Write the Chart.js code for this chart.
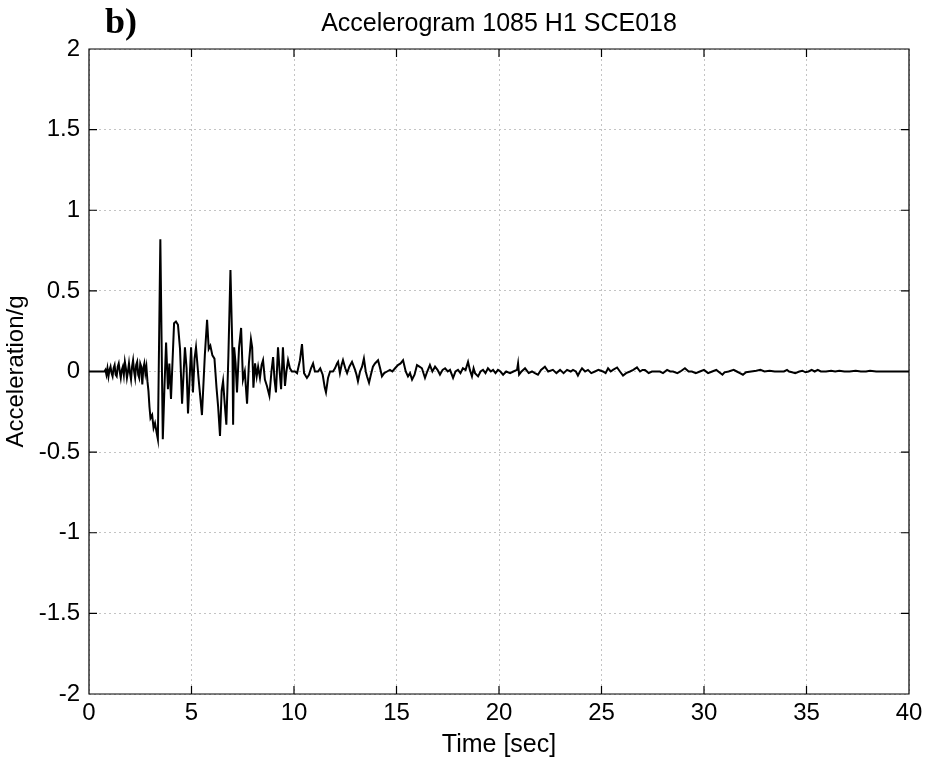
<!DOCTYPE html>
<html>
<head>
<meta charset="utf-8">
<script src="https://cdn.jsdelivr.net/npm/chart.js@4/dist/chart.umd.min.js"></script>
<style>
  html, body { margin: 0; padding: 0; background: #fff; }
  #wrap { width: 925px; height: 760px; }
</style>
</head>
<body>
<div id="wrap"><canvas id="chart" width="925" height="760"></canvas></div>
<script>
const TITLE = "Accelerogram 1085 H1 SCE018";
const PANEL = "b)";
const X_TITLE = "Time [sec]";
const Y_TITLE = "Acceleration/g";
const X_TICKS = [0, 5, 10, 15, 20, 25, 30, 35, 40];
const Y_TICKS = [-2, -1.5, -1, -0.5, 0, 0.5, 1, 1.5, 2];

// seconds
const timeSec = [
  0, 0.75, 0.8, 0.85, 0.9, 0.95, 1.0, 1.05, 1.1, 1.15, 1.2, 1.25, 1.3, 1.35, 1.4, 1.45, 1.5, 1.55, 1.6, 1.65, 1.7, 1.75, 1.8, 1.85, 1.9,
  1.95, 2.0, 2.05, 2.1, 2.15, 2.2, 2.25, 2.3, 2.35, 2.4, 2.45, 2.5, 2.55, 2.6, 2.65, 2.7, 2.75, 2.8, 2.85, 2.9,
  2.95, 3.0, 3.08, 3.15, 3.22, 3.3, 3.36, 3.48, 3.6, 3.68, 3.76, 3.85, 3.92, 4.0, 4.15, 4.24, 4.34, 4.44, 4.54, 4.6, 4.68, 4.76, 4.83, 4.98,
  5.07, 5.15, 5.22, 5.35, 5.51, 5.65, 5.76, 5.84, 5.92, 6.02, 6.12, 6.22, 6.3, 6.39, 6.47, 6.54, 6.62, 6.7, 6.8, 6.9, 7.0, 7.03, 7.08, 7.15,
  7.22, 7.32, 7.42, 7.51, 7.6, 7.71, 7.8, 7.9, 7.96, 8.02, 8.1, 8.18, 8.25, 8.34, 8.42, 8.49, 8.58, 8.68, 8.8, 8.9, 8.98, 9.05, 9.12, 9.22,
  9.3, 9.37, 9.46, 9.56, 9.63, 9.71, 9.8, 9.9, 10.05, 10.15, 10.29, 10.39, 10.49, 10.63, 10.73, 10.83, 10.93, 11.02, 11.17, 11.28, 11.4, 11.5,
  11.56, 11.66, 11.76, 11.9, 12.0, 12.1, 12.15, 12.24, 12.32, 12.39, 12.5, 12.59, 12.7, 12.83, 12.98, 13.05, 13.12, 13.22, 13.32, 13.41, 13.5,
  13.56, 13.66, 13.75, 13.85, 13.95, 14.1, 14.2, 14.29, 14.4, 14.54, 14.68, 14.8, 14.93, 15.07, 15.2, 15.32, 15.45, 15.56, 15.66, 15.76, 15.88,
  16.0, 16.12, 16.24, 16.39, 16.5, 16.63, 16.75, 16.88, 17.0, 17.12, 17.25, 17.37, 17.5, 17.61, 17.76, 17.88, 18.0, 18.12, 18.24, 18.37, 18.49,
  18.58, 18.68, 18.76, 18.83, 18.98, 19.1, 19.22, 19.34, 19.46, 19.6, 19.71, 19.83, 19.95, 20.07, 20.2, 20.35, 20.54, 20.7, 20.88, 20.93, 20.98,
  21.1, 21.27, 21.45, 21.61, 21.75, 21.9, 22.05, 22.24, 22.4, 22.63, 22.8, 22.98, 23.15, 23.32, 23.5, 23.61, 23.75, 23.85, 23.95, 24.05, 24.2,
  24.34, 24.5, 24.68, 24.85, 25.07, 25.2, 25.32, 25.45, 25.56, 25.76, 25.9, 26.05, 26.2, 26.39, 26.55, 26.73, 26.88, 27.0, 27.12, 27.3, 27.46,
  27.65, 27.85, 28.0, 28.2, 28.35, 28.49, 28.7, 28.85, 29.07, 29.25, 29.41, 29.6, 29.8, 30.0, 30.2, 30.4, 30.6, 30.9, 31.0, 31.2, 31.45, 31.6,
  31.75, 31.9, 32.05, 32.3, 32.55, 32.75, 32.95, 33.2, 33.45, 33.7, 33.9, 34.05, 34.15, 34.3, 34.45, 34.65, 34.8, 34.95, 35.1, 35.25, 35.4,
  35.55, 35.7, 35.95, 36.2, 36.4, 36.6, 36.85, 37.1, 37.4, 37.65, 37.9, 38.1, 38.4, 38.7, 40
];

// acceleration in g, same order
const accelG = [
  0, 0, 0.01, -0.02, 0.02, -0.03, 0.01, 0.03, -0.01, -0.03, 0.02, 0.04, -0.02, -0.03, 0.03, 0.05, 0, -0.04, 0.01, 0.03, -0.02, 0.06, 0.02, -0.04, 0,
  0.05, -0.01, -0.05, 0.03, 0.07, 0, -0.04, 0.04, 0.06, -0.02, -0.04, 0.05, 0.03, -0.08, 0.02, 0.05, -0.01, 0.03, -0.06, -0.12,
  -0.22, -0.29, -0.27, -0.35, -0.32, -0.38, -0.42, 0.82, -0.42, -0.1, 0.18, -0.11, 0.05, -0.17, 0.3, 0.31, 0.29, 0.14, -0.2, -0.05, 0.15, 0.02, -0.26, 0.15,
  -0.13, 0.08, 0.15, -0.05, -0.27, 0.1, 0.32, 0.14, 0.16, 0.1, 0.08, -0.1, -0.22, -0.4, -0.12, -0.06, -0.2, -0.33, 0.1, 0.63, 0.1, -0.33, 0.15, 0.05,
  -0.13, 0.15, 0.27, -0.05, 0, -0.2, 0.05, 0.2, 0.15, -0.1, 0.05, -0.03, 0.03, -0.04, 0.04, 0.07, -0.05, -0.09, -0.15, 0, 0.09, -0.05, -0.13, 0.15,
  0, -0.11, 0.15, -0.09, 0, 0.07, 0.02, 0, 0, -0.01, 0.07, 0.17, -0.01, -0.04, -0.02, 0.02, 0.05, 0, 0, 0.02, -0.02, -0.1,
  -0.13, -0.04, 0, 0, 0.02, 0.05, 0.06, -0.01, 0.04, 0.07, 0.02, -0.01, 0.03, 0.06, 0.01, -0.02, -0.06, 0, 0.03, 0.08, 0,
  -0.03, -0.07, -0.02, 0.03, 0.05, 0.07, 0.02, -0.03, -0.01, 0, 0.01, 0, 0.02, 0.04, 0.05, 0.07, 0, -0.03, -0.01, -0.05, -0.02,
  0.04, 0.03, 0.02, -0.04, 0, 0.04, 0, 0.03, 0.01, -0.02, 0.01, 0.02, 0, 0.01, -0.04, 0, 0.01, -0.01, 0.02, 0.01, 0.06,
  0.01, -0.03, 0.02, -0.01, -0.03, 0, 0.01, -0.01, 0.02, 0, 0.01, -0.01, 0.01, 0, -0.02, 0, -0.01, 0, 0.01, 0.05, -0.02,
  0, 0.02, -0.01, 0, -0.01, -0.02, 0.01, 0.03, 0, 0.01, -0.01, 0.01, -0.01, 0.01, 0, 0.01, 0, -0.025, 0, 0.02, 0,
  0.01, -0.01, 0, 0.01, 0, -0.01, 0.02, 0, 0.01, 0.025, 0, -0.025, -0.01, 0, 0.01, 0.025, 0, 0.01, 0.01, -0.01, 0,
  0, 0, -0.01, 0.01, 0, 0, -0.01, 0, 0.02, 0, 0, -0.01, 0, 0.01, -0.01, 0, 0.01, -0.02, -0.005, 0, 0.01, 0,
  -0.01, -0.02, -0.005, 0, 0.005, 0.01, 0, 0.005, 0, 0, 0, 0.01, 0, -0.005, -0.01, 0, 0.005, -0.005, 0, 0.01, 0,
  0.01, 0, 0, 0.005, 0, 0.005, 0, 0, 0.005, 0, 0, 0.005, 0, 0, 0
];

const FONT = '"Liberation Sans", Arial, sans-serif';
Chart.defaults.font.family = FONT;
Chart.defaults.color = "#000";

// matlab-ish box with inward ticks, plus the title and panel letter
const framePlugin = {
  id: "frame",
  afterDraw(chart) {
    const { ctx, chartArea: a, scales: { x, y } } = chart;
    ctx.save();
    ctx.strokeStyle = "#000";
    ctx.lineWidth = 1.2;
    ctx.beginPath();
    ctx.rect(a.left, a.top, a.right - a.left, a.bottom - a.top);
    x.ticks.forEach(t => {
      const px = x.getPixelForValue(t.value);
      ctx.moveTo(px, a.bottom); ctx.lineTo(px, a.bottom - 8);
      ctx.moveTo(px, a.top); ctx.lineTo(px, a.top + 8);
    });
    y.ticks.forEach(t => {
      const py = y.getPixelForValue(t.value);
      ctx.moveTo(a.left, py); ctx.lineTo(a.left + 8, py);
      ctx.moveTo(a.right, py); ctx.lineTo(a.right - 8, py);
    });
    ctx.stroke();

    ctx.fillStyle = "#000";
    ctx.textAlign = "center";
    ctx.textBaseline = "alphabetic";
    ctx.font = "25px " + FONT;
    ctx.fillText(TITLE, (a.left + a.right) / 2, 31);
    ctx.textAlign = "left";
    ctx.font = 'bold 36px "Liberation Serif", "Times New Roman", serif';
    ctx.fillText(PANEL, 105, 33);
    ctx.restore();
  }
};

new Chart(document.getElementById("chart").getContext("2d"), {
  type: "scatter",
  data: {
    datasets: [{
      data: timeSec.map((t, i) => ({ x: t, y: accelG[i] })),
      showLine: true,
      borderColor: "#000",
      backgroundColor: "#000",
      borderWidth: 2,
      pointRadius: 0,
      tension: 0
    }]
  },
  options: {
    responsive: false,
    animation: false,
    events: [],
    layout: { padding: { top: 49, right: 0, bottom: 0, left: 0 } },
    plugins: { legend: { display: false }, tooltip: { enabled: false }, title: { display: false } },
    scales: {
      x: {
        type: "linear",
        min: 0, max: 40,
        afterBuildTicks: (s) => { s.ticks = X_TICKS.map(v => ({ value: v })); },
        afterFit: (s) => { s.height = 66; s.paddingRight = 16; },
        ticks: { font: { size: 24 }, padding: 5, maxRotation: 0, callback: (v) => `${v}` },
        grid: { color: "#c4c4c4", lineWidth: 1, drawTicks: false },
        border: { display: false, dash: [2, 3] },
        title: { display: true, text: X_TITLE, font: { size: 25 }, padding: { top: 0, bottom: 0 } }
      },
      y: {
        type: "linear",
        min: -2, max: 2,
        afterBuildTicks: (s) => { s.ticks = Y_TICKS.map(v => ({ value: v })); },
        afterFit: (s) => { s.width = 89; },
        ticks: { font: { size: 24 }, padding: 9, callback: (v) => `${v}` },
        grid: { color: "#c4c4c4", lineWidth: 1, drawTicks: false },
        border: { display: false, dash: [2, 3] },
        title: { display: true, text: Y_TITLE, font: { size: 24 }, padding: { top: 2, bottom: 0 } }
      }
    }
  },
  plugins: [framePlugin]
});
</script>
</body>
</html>
